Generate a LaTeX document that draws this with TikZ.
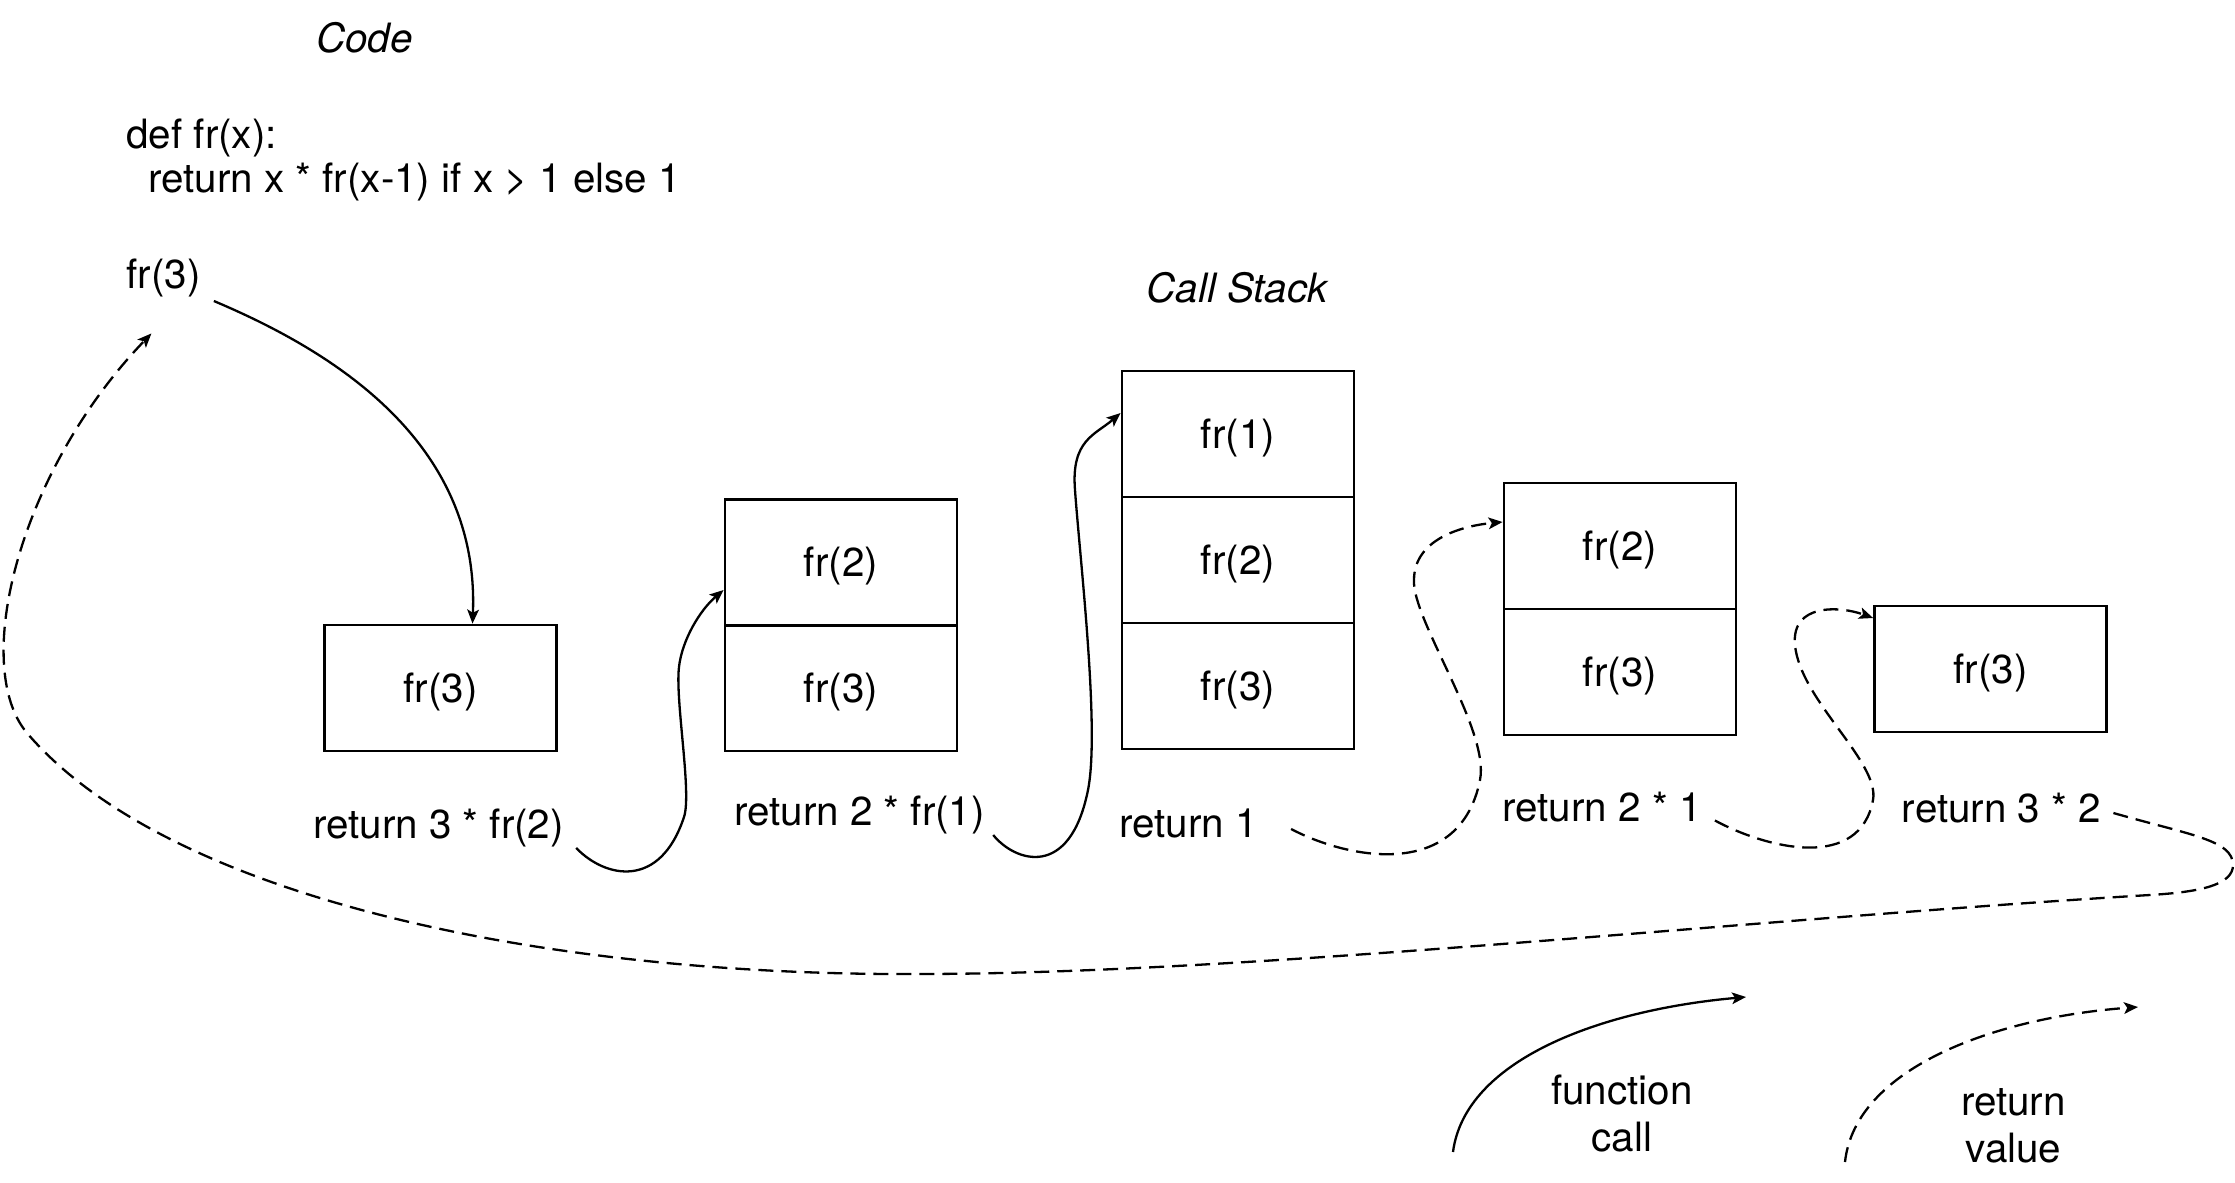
\documentclass[tikz,border=0pt]{standalone}
\usepackage{fontspec}
\setmainfont{TeX Gyre Heros}
\usetikzlibrary{arrows.meta,calc}
\begin{document}
\begin{tikzpicture}[x=0.5pt,y=-0.5pt,
  font=\fontsize{20.2}{23.5}\selectfont,
  lbl/.style={inner sep=0pt},
  title/.style={inner sep=0pt,font=\fontsize{20.2}{23.5}\selectfont\itshape},
  cell/.style={draw,line width=1.4pt,minimum width=116pt,minimum height=63pt,inner sep=0pt,
    text height=18.6pt,text depth=4.4pt},
  call/.style={line width=1.15pt,-{Stealth[length=7pt,width=5.8pt,inset=1.6pt]}},
  ret/.style={call,dash pattern=on 7.5pt off 4pt},
]
\useasboundingbox (0,0) rectangle (2235,1183);

% code listing
\node[title] (codetitle) at (364.5,38) {Code};
\node[lbl,anchor=west] (def) at (126,137.5) {def fr(x):};
\node[lbl,anchor=west] (body) at (148,181.7) {return x * fr(x-1) if x > 1 else 1};
\node[lbl,anchor=west] (fr3code) at (126,278) {fr(3)};

% call stack snapshots
\node[title] (stacktitle) at (1237,288) {Call Stack};
\node[cell] (s1a) at (440.5,688) {fr(3)};
\node[cell] (s2a) at (841,562.5) {fr(2)};
\node[cell] (s2b) at (841,688) {fr(3)};
\node[cell] (s3a) at (1238,434) {fr(1)};
\node[cell] (s3b) at (1238,560) {fr(2)};
\node[cell] (s3c) at (1238,686) {fr(3)};
\node[cell] (s4a) at (1620,546) {fr(2)};
\node[cell] (s4b) at (1620,672) {fr(3)};
\node[cell] (s5a) at (1990.5,669) {fr(3)};

% return expressions
\node[lbl] (r1) at (438.5,828) {return 3 * fr(2)};
\node[lbl] (r2) at (859.5,815) {return 2 * fr(1)};
\node[lbl] (r3) at (1188.5,823) {return 1};
\node[lbl] (r4) at (1602,807.5) {return 2 * 1};
\node[lbl] (r5) at (2001.5,808) {return 3 * 2};

% calls
\draw[call] ($(fr3code.east)+(13,23)$) .. controls (330,350) and (480,440) .. ($(s1a.north)+(32,0)$);
\draw[call] ($(r1.east)+(12,20)$) .. controls (605,878) and (660,890) .. (684,817)
  .. controls (692,793) and (675,700) .. (679,667)
  .. controls (682,640) and (700,610) .. ($(s2a.west)+(0,27.5)$);
\draw[call] ($(r2.east)+(8,20)$) .. controls (1015,862) and (1070,880) .. (1088,790)
  .. controls (1100,730) and (1080,560) .. (1075,490)
  .. controls (1071,440) and (1095,435) .. ($(s3a.west)+(0,-21)$);

% returns
\draw[ret] ($(r3.east)+(33,6)$) .. controls (1350,860) and (1460,880) .. (1480,780)
  .. controls (1490,730) and (1412,620) .. (1414,580)
  .. controls (1414,540) and (1460,526) .. ($(s4a.west)+(0,-24)$);
\draw[ret] ($(r4.east)+(13,13)$) .. controls (1770,850) and (1860,870) .. (1873,800)
  .. controls (1880,762) and (1800,700) .. (1795,645)
  .. controls (1791,603) and (1840,606) .. ($(s5a.west)+(0,-51)$);
\draw[ret] ($(r5.east)+(12,5)$) .. controls (2190,835) and (2233,840) .. (2233,865)
  .. controls (2233,885) and (2200,892) .. (2150,895)
  .. controls (1750,919) and (1250,974) .. (918,974)
  .. controls (550,976) and (170,900) .. (27,733)
  .. controls (-30,665) and (20,470) .. ($(fr3code.south)+(-12,36)$);

% legend
\coordinate (lc1) at (1453,1152);
\coordinate (lc2) at (1746,997);
\draw[call] (lc1) .. controls (1465,1060) and (1600,1010) .. (lc2);
\node[lbl,align=center] (lgcall) at (1622,1113.5) {function\\call};
\coordinate (lr1) at (1845,1162);
\coordinate (lr2) at (2138,1007);
\draw[ret] (lr1) .. controls (1855,1070) and (1990,1018) .. (lr2);
\node[lbl,align=center] (lgret) at (2013.5,1125.5) {return\\value};
\end{tikzpicture}
\end{document}
